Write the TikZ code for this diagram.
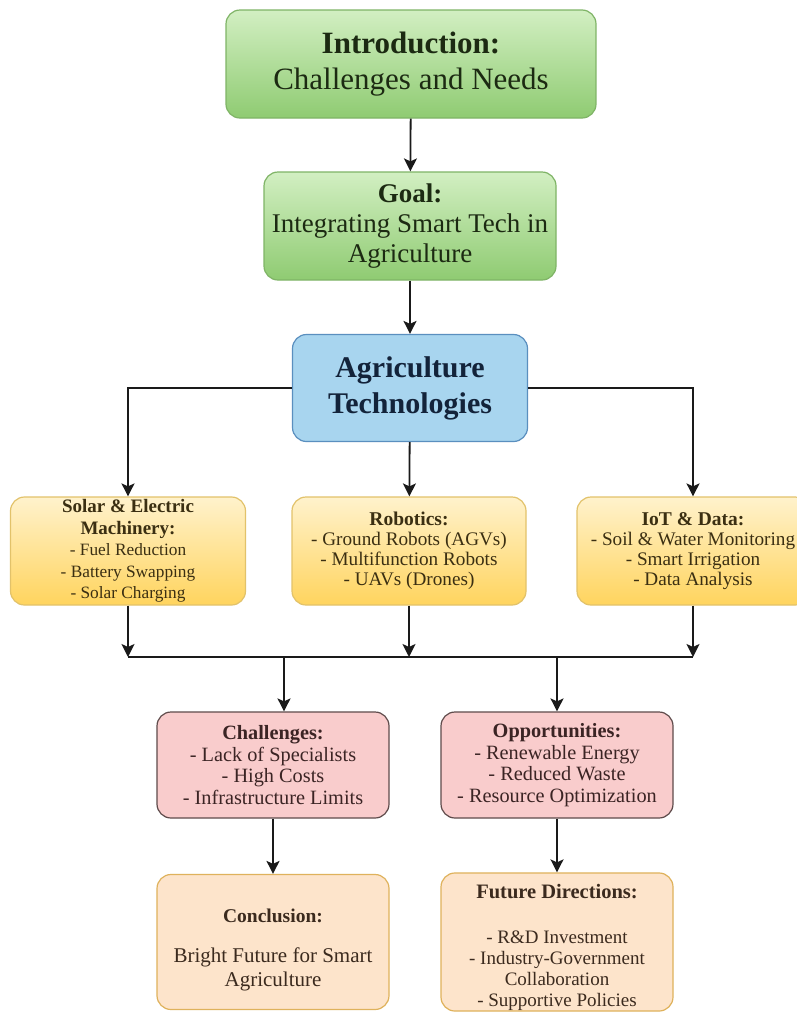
\documentclass[tikz,border=0pt]{standalone}
\usepackage{fontspec}
\setmainfont{Liberation Serif}
\usetikzlibrary{arrows.meta}
\newcommand\fsz[2]{\fontsize{#1}{#2}\selectfont}

\definecolor{greenTop}{HTML}{D2EFC2}
\definecolor{greenBot}{HTML}{8FCB72}
\definecolor{greenLine}{HTML}{7FB466}
\definecolor{blueFill}{HTML}{A8D5EF}
\definecolor{blueLine}{HTML}{5A8FBF}
\definecolor{yellowTop}{HTML}{FFF2CC}
\definecolor{yellowBot}{HTML}{FFD45E}
\definecolor{yellowLine}{HTML}{E2C26A}
\definecolor{pinkFill}{HTML}{F9CCCC}
\definecolor{pinkLine}{HTML}{5F4B4B}
\definecolor{peachFill}{HTML}{FDE4CB}
\definecolor{peachLine}{HTML}{DFB25C}
\definecolor{txtGreen}{HTML}{1C2A12}
\definecolor{txtBlue}{HTML}{13233A}
\definecolor{txtYellow}{HTML}{3B2F12}
\definecolor{txtPink}{HTML}{3B2424}
\definecolor{txtPeach}{HTML}{3B2A1E}
\definecolor{wire}{HTML}{1A1A1A}

\begin{document}
\begin{tikzpicture}[x=1pt,y=-1pt,
  box/.style={rounded corners=14pt, line width=1.2pt, align=center, inner sep=0pt},
  greenbox/.style={box, draw=greenLine, top color=greenTop, bottom color=greenBot, text=txtGreen},
  bluebox/.style={box, draw=blueLine, fill=blueFill, text=txtBlue},
  yellowbox/.style={box, draw=yellowLine, top color=yellowTop, bottom color=yellowBot, text=txtYellow,
    minimum height=108pt},
  pinkbox/.style={box, draw=pinkLine, fill=pinkFill, text=txtPink, minimum width=232pt, minimum height=106pt,
    font=\fsz{20.3}{21.5}},
  peachbox/.style={box, draw=peachLine, fill=peachFill, text=txtPeach, minimum width=232pt, minimum height=135pt},
  arr/.style={draw=wire, line width=1.8pt, -{Stealth[length=13pt,width=13pt,inset=3pt]}},
  wireline/.style={draw=wire, line width=1.8pt}]

\clip (0,0) rectangle (797,1015);
\fill[white] (0,0) rectangle (797,1015);

% top chain
\node[greenbox, minimum width=370pt, minimum height=108pt, font=\fsz{31}{36}] (intro) at (411,64)
  {\textbf{Introduction:}\\Challenges and Needs};
\node[greenbox, minimum width=292pt, minimum height=108pt, font=\fsz{27}{30}] (goal) at (410,226)
  {\textbf{Goal:}\\Integrating Smart Tech in\\Agriculture};
\node[bluebox, minimum width=235pt, minimum height=107pt, font=\bfseries\fsz{30}{36}] (agri) at (410,388)
  {Agriculture\\Technologies};

% technology branches
\node[yellowbox, minimum width=235pt, font=\fsz{17.3}{21.5}] (solar) at (128,551)
  {{\bfseries\fsz{19}{21.5}Solar \& Electric}\\{\bfseries\fsz{19}{21.5}Machinery:}\\- Fuel Reduction\\- Battery Swapping\\- Solar Charging};
\node[yellowbox, minimum width=234pt, font=\fsz{19.2}{20}] (robot) at (409,551)
  {{\bfseries\fsz{19.5}{20}Robotics:}\\- Ground Robots (AGVs)\\- Multifunction Robots\\- UAVs (Drones)};
\node[yellowbox, minimum width=232pt, font=\fsz{19.2}{20}] (iot) at (693,551)
  {{\bfseries\fsz{19.5}{20}IoT \& Data:}\\- Soil \& Water Monitoring\\- Smart Irrigation\\- Data Analysis};

% outcomes
\node[pinkbox] (chal) at (273,765)
  {\textbf{Challenges:}\\- Lack of Specialists\\- High Costs\\- Infrastructure Limits};
\node[pinkbox] (opp) at (557,765)
  {\textbf{Opportunities:}\\- Renewable Energy\\- Reduced Waste\\- Resource Optimization};

% the struts push each text block a little below the box centre
\node[peachbox, font=\fsz{21}{23.5}] (concl) at (273,942)
  {\rule{0pt}{29pt}{\bfseries\fsz{19.5}{23.5}Conclusion:}\\[17pt]Bright Future for Smart\\Agriculture};
\node[peachbox, font=\fsz{19}{21}] (fut) at (557,942)
  {\rule{0pt}{26pt}{\bfseries\fsz{20.5}{21}Future Directions:}\\[24pt]- R\&D Investment\\- Industry-Government\\Collaboration\\- Supportive Policies};

% connectors
\draw[arr] (intro) -- (goal);
\draw[arr] (goal) -- (agri);
\draw[arr] (agri.west) -| (solar.north);
\draw[arr] (agri) -- (robot);
\draw[arr] (agri.east) -| (iot.north);

\coordinate (jL) at (128,657);
\coordinate (jM) at (409,657);
\coordinate (jR) at (693,657);
\coordinate (dL) at (284,657);
\coordinate (dR) at (557,657);
\draw[wireline] (jL) -- (jR);
\draw[arr] (solar.south) -- (jL);
\draw[arr] (robot.south) -- (jM);
\draw[arr] (iot.south) -- (jR);
\draw[arr] (dL) -- (dL |- chal.north);
\draw[arr] (dR) -- (opp.north);
\draw[arr] (chal) -- (chal |- concl.north);
\draw[arr] (opp) -- (fut);
\end{tikzpicture}
\end{document}
